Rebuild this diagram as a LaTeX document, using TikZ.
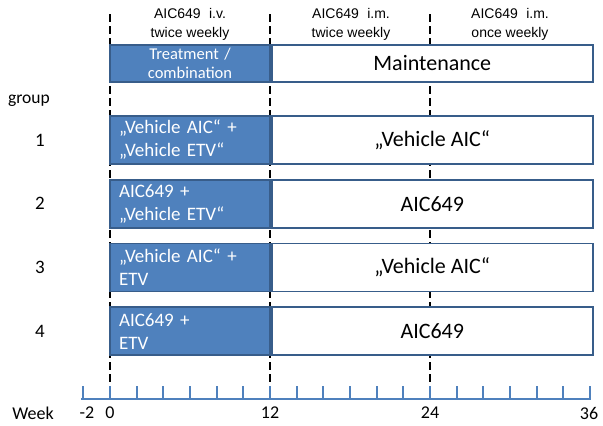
\documentclass[tikz,border=0pt]{standalone}
\usepackage{fontspec}
\setmainfont{Carlito}
\newfontfamily\arialfont{Liberation Sans}
\definecolor{boxblue}{HTML}{4F81BD}
\definecolor{edgeblue}{HTML}{385D8A}

\begin{document}
\begin{tikzpicture}[x=1pt, y=-1pt,
  treat/.style={draw=edgeblue, line width=1.8pt, fill=boxblue, text=white,
    minimum width=160pt, minimum height=48pt, text width=142pt, inner xsep=9pt,
    align=left, font=\fontsize{19}{23}\selectfont},
  maint/.style={draw=edgeblue, line width=1.8pt, fill=white,
    minimum width=321pt, minimum height=48pt, font=\fontsize{22}{26}\selectfont},
  phase/.style={align=center, font=\arialfont\fontsize{14}{19}\selectfont},
  grp/.style={font=\fontsize{19}{23}\selectfont},
  wk/.style={font=\fontsize{18}{22}\selectfont}]
  \useasboundingbox (0,0) rectangle (603,426);

  % dashed week markers
  \foreach \x/\n in {110/0, 270/12, 430/24} {
    \coordinate (top\n) at (\x,14);
    \coordinate (bot\n) at (\x,386);
    \draw[line width=2.4pt, dash pattern=on 8pt off 4pt] (top\n) -- (bot\n);
  }

  % phase headers
  \node[phase] (ph1) at (190,24) {AIC649\hspace{0.6em}i.v.\\twice weekly};
  \node[phase] (ph2) at (351,24) {AIC649\hspace{0.6em}i.m.\\twice weekly};
  \node[phase] (ph3) at (510,24) {AIC649\hspace{0.6em}i.m.\\once weekly};

  \node[treat, minimum height=37pt, align=center,
    font=\fontsize{16.5}{19}\selectfont] (head) at (190,63.5) {Treatment /\\combination};
  \node[maint, minimum height=37pt, anchor=west] (headm) at (head.east) {Maintenance};

  \node[font=\fontsize{17.5}{21}\selectfont] (group) at (29,101) {group};

  % groups
  \foreach \i/\a/\b in {1/{„Vehicle AIC“ +\\„Vehicle ETV“}/{„Vehicle AIC“},
                        2/{AIC649 +\\„Vehicle ETV“}/{AIC649},
                        3/{„Vehicle AIC“ +\\ETV}/{„Vehicle AIC“},
                        4/{AIC649 +\\ETV}/{AIC649}} {
    \node[treat] (t\i) at (190,{140+63.7*(\i-1)}) {\a};
    \node[maint, anchor=west] (m\i) at (t\i.east) {\b};
    \node[grp] (g\i) at (40,{140+63.7*(\i-1)}) {\i};
  }

  % week axis
  \coordinate (ax0) at (81,399);
  \coordinate (ax1) at (591,399);
  \draw[boxblue, line width=2pt] (ax0) -- (ax1);
  \foreach \k in {-1,...,18}
    \draw[boxblue, line width=2pt] ({110+26.667*\k},399) -- ++(0,-13);
  \node[wk] (week) at (33,413) {Week};
  \foreach \w/\x in {-2/87, 0/110, 12/270, 24/430, 36/589}
    \node[wk] (w\w) at (\x,413) {\w};
\end{tikzpicture}
\end{document}
